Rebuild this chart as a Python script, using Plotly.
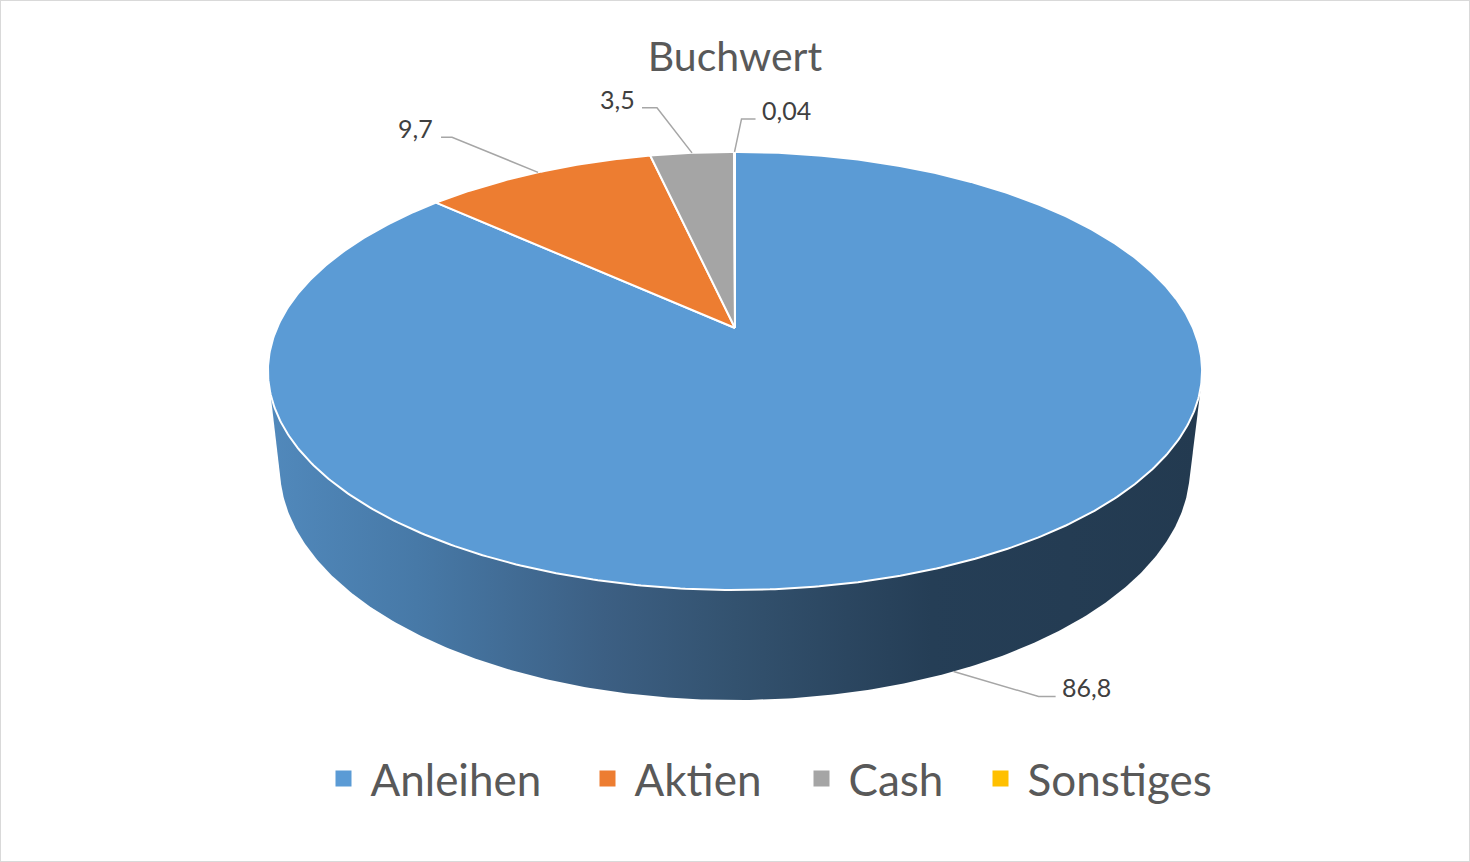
import numpy as np
import plotly.graph_objects as go

# ---- data ----
categories = ["Anleihen", "Aktien", "Cash", "Sonstiges"]
values = [86.8, 9.7, 3.5, 0.04]
colors = ["#5b9bd5", "#ed7d31", "#a5a5a5", "#ffc000"]
title_text = "Buchwert"

# ---- geometry of the tilted (perspective) pie, in pixel space ----
W, H = 1470, 862
CX, CY = 735, 328          # centre of the top face
A, B, K = 458, 210.6, 0.196  # x radius, depth radius, perspective factor
Q, D = 0.0255, 98          # bottom face perspective shift and drop


def top_pt(theta):
    t = np.radians(theta)
    X, Z = np.sin(t), np.cos(t)
    w = 1 + K * Z
    return CX + A * X / w, CY - B * Z / w


def bot_pt(theta):
    t = np.radians(theta)
    X, Z = np.sin(t), np.cos(t)
    w = 1 + Q + K * Z
    return CX + A * X / w, CY + (D - B * Z) / w


def convex_hull(pts):
    pts = sorted(set(pts))

    def cross(o, a, b):
        return (a[0] - o[0]) * (b[1] - o[1]) - (a[1] - o[1]) * (b[0] - o[0])

    lower, upper = [], []
    for p in pts:
        while len(lower) >= 2 and cross(lower[-2], lower[-1], p) <= 0:
            lower.pop()
        lower.append(p)
    for p in reversed(pts):
        while len(upper) >= 2 and cross(upper[-2], upper[-1], p) <= 0:
            upper.pop()
        upper.append(p)
    return lower[:-1] + upper[:-1]


total = sum(values)
angles = np.concatenate([[0], np.cumsum(values) / total * 360.0])

fig = go.Figure()

# side wall (silhouette of the cylinder), shaded with a horizontal gradient
full = np.linspace(0, 360, 721)
pts = [tuple(np.round(top_pt(a), 3)) for a in full] + [tuple(np.round(bot_pt(a), 3)) for a in full]
hull = convex_hull(pts)
hx = [p[0] for p in hull] + [hull[0][0]]
hy = [p[1] for p in hull] + [hull[0][1]]
fig.add_trace(go.Scatter(
    x=hx, y=hy, mode="lines", fill="toself", line=dict(width=0),
    fillgradient=dict(type="horizontal", start=267, stop=1203,
                      colorscale=[[0.0, "#5189bc"], [0.16, "#4779a7"], [0.36, "#3c5f83"],
                                  [0.5, "#33526f"], [0.62, "#2b4660"], [0.71, "#253e56"],
                                  [1.0, "#233a50"]]),
    hoverinfo="skip", showlegend=False))

# top face slices
for i, (cat, v) in enumerate(zip(categories, values)):
    a0, a1 = angles[i], angles[i + 1]
    n = max(2, int((a1 - a0) * 2))
    arc = [top_pt(a) for a in np.linspace(a0, a1, n)]
    xs = [CX] + [p[0] for p in arc] + [CX]
    ys = [CY] + [p[1] for p in arc] + [CY]
    fig.add_trace(go.Scatter(
        x=xs, y=ys, mode="lines", fill="toself", fillcolor=colors[i],
        line=dict(color="white", width=2), name=cat,
        hoverinfo="text", text=f"{cat}: {v:g}".replace(".", ","), showlegend=False))

# data labels with leader lines
label_layout = {
    # (anchor face, elbow dx, dy, end dx, dy, text dx, side)
    "Anleihen": ("bottom", 85, 25, 102, 25, 106, "left"),
    "Aktien": ("top", -86, -35, -97, -35, -103, "right"),
    "Cash": ("top", -35, -45, -50, -45, -55, "right"),
    "Sonstiges": ("top", 7, -33, 21, -33, 25, "left"),
}
for i, (cat, v) in enumerate(zip(categories, values)):
    mid = (angles[i] + angles[i + 1]) / 2
    face, ex, ey, fx, fy, tx, side = label_layout[cat]
    ax, ay = bot_pt(mid) if face == "bottom" else top_pt(mid)
    fig.add_trace(go.Scatter(
        x=[ax, ax + ex, ax + fx], y=[ay, ay + ey, ay + fy], mode="lines",
        line=dict(color="#a6a6a6", width=1.5), hoverinfo="skip", showlegend=False))
    fig.add_annotation(
        x=ax + tx, y=ay + fy - 9, text=f"{v:g}".replace(".", ","), showarrow=False,
        xanchor=side, yanchor="middle",
        font=dict(family="Lato", size=25, color="#404040"))

# legend entries: one legend per entry so each sits where the original puts it
legend_marker_x = [343.5, 607.5, 821.5, 1000.5]   # centre of each legend square (px)
legend_y = 779
ITEMW = 44
legend_names = ["legend", "legend2", "legend3", "legend4"]
legend_layouts = {}
for cat, c, lx, lname in zip(categories, colors, legend_marker_x, legend_names):
    fig.add_trace(go.Scatter(
        x=[None], y=[None], mode="markers", name=cat, legend=lname,
        marker=dict(symbol="square", size=16, color=c)))
    legend_layouts[lname] = dict(
        orientation="h", x=(lx - (5 + ITEMW / 2)) / W, xanchor="left",
        y=1 - legend_y / H, yanchor="middle", itemwidth=ITEMW,
        font=dict(family="Lato", size=44, color="#595959"),
        bgcolor="rgba(0,0,0,0)", borderwidth=0)

fig.update_layout(
    width=W, height=H, margin=dict(l=0, r=0, t=0, b=0),
    paper_bgcolor="white", plot_bgcolor="white",
    title=dict(text=title_text, x=0.5, xanchor="center", xref="paper",
               y=1 - 57 / H, yref="container", yanchor="middle",
               font=dict(family="Lato", size=41, color="#595959")),
    xaxis=dict(range=[0, W], visible=False, fixedrange=True),
    yaxis=dict(range=[H, 0], visible=False, fixedrange=True),
    shapes=[dict(type="rect", xref="paper", yref="paper", x0=0, y0=0, x1=1, y1=1,
                 line=dict(color="#d9d9d9", width=2))],
    showlegend=True,
    **legend_layouts,
)

fig.write_html("out.html", config={"displayModeBar": False},
               post_script="document.body.style.margin='0';document.body.style.overflow='hidden';")
